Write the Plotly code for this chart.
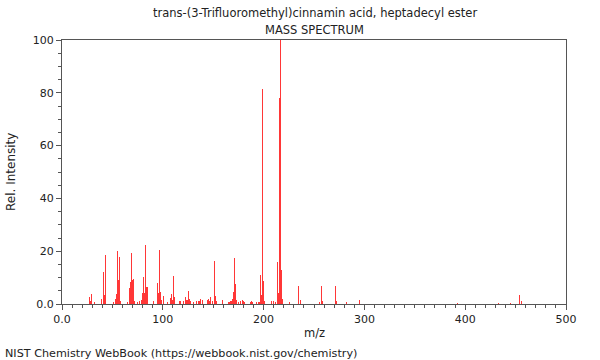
import plotly.graph_objects as go

title_line1 = "trans-(3-Trifluoromethyl)cinnamin acid, heptadecyl ester"
title_line2 = "MASS SPECTRUM"
x_label = "m/z"
y_label = "Rel. Intensity"
footer = "NIST Chemistry WebBook (https://webbook.nist.gov/chemistry)"

mz = [27, 28, 29, 32, 39, 41, 42, 43, 51, 53, 54, 55, 56, 57, 58,
      65, 67, 68, 69, 70, 71, 72, 75, 77, 79, 80, 81, 82, 83, 84, 85,
      91, 95, 96, 97, 98, 99, 101, 105, 108, 109, 110, 111, 112,
      117, 118, 121, 123, 124, 125, 126, 127, 130, 133, 135, 136, 137, 139,
      144, 145, 146, 147, 149, 151, 152, 153, 159, 165, 166, 167, 168, 169,
      170, 171, 172, 173, 175, 177, 179, 180, 181, 187, 188, 189, 193, 195,
      196, 197, 198, 199, 200, 201, 208, 210, 212, 214, 215, 216, 217, 218, 219,
      226, 235, 237, 255, 257, 258, 271, 272, 282, 295, 392, 433, 445, 454, 456]
intensity = [2.5, 1.0, 3.8, 0.6, 2.0, 12.0, 3.4, 18.5, 0.8, 2.0, 3.8, 20.0, 9.0, 17.8, 1.0,
             0.8, 6.0, 8.5, 19.4, 9.0, 9.3, 1.0, 0.8, 1.0, 1.5, 4.0, 10.3, 4.0, 22.3, 6.6, 6.3,
             1.0, 7.8, 4.0, 20.5, 4.7, 1.5, 3.0, 0.8, 2.1, 3.8, 1.5, 10.6, 2.7,
             1.0, 1.0, 1.0, 2.7, 1.5, 5.0, 2.0, 1.0, 0.8, 1.0, 1.2, 1.2, 2.0, 1.5,
             1.6, 1.8, 1.2, 2.7, 1.0, 16.3, 3.2, 1.0, 1.5, 0.8, 0.8, 1.0, 1.2, 2.0,
             4.7, 17.4, 7.5, 1.5, 0.8, 1.0, 1.5, 1.0, 0.8, 0.8, 1.0, 0.6, 0.8, 0.6,
             0.8, 11.0, 3.6, 81.3, 8.8, 1.2, 1.0, 1.2, 0.8, 16.0, 4.0, 78.0, 100.0, 13.0, 2.0,
             0.6, 6.8, 1.5, 0.6, 7.0, 1.2, 6.8, 1.2, 0.8, 1.5, 0.3, 0.3, 0.3, 3.3, 1.0]

x_tickvals = [0, 100, 200, 300, 400, 500]
x_ticktext = ["0.0", "100", "200", "300", "400", "500"]
y_tickvals = [0, 20, 40, 60, 80, 100]
y_ticktext = ["0.0", "20", "40", "60", "80", "100"]

font_family = "DejaVu Sans"
W, H = 600, 360
L, R, T, B = 62, 34, 40, 56
plot_w = W - L - R
plot_h = H - T - B


def px_x(px):
    return (px - L) / plot_w


def px_y(py):
    return (H - B - py) / plot_h


fig = go.Figure()
fig.add_trace(go.Bar(
    x=mz, y=intensity, width=1.0,
    marker=dict(color="rgba(255,20,20,0.85)", line=dict(width=0)),
    hoverinfo="x+y",
))

axis_common = dict(
    showline=True, linecolor="#555", linewidth=1, mirror=True,
    ticks="outside", ticklen=5, tickcolor="#555", tickwidth=1,
    showgrid=False, zeroline=False,
    tickfont=dict(family=font_family, size=11, color="#222"),
)

fig.update_layout(
    width=W, height=H,
    margin=dict(l=L, r=R, t=T, b=B),
    paper_bgcolor="white", plot_bgcolor="white",
    showlegend=False, bargap=0,
    font=dict(family=font_family, size=11.5, color="#222"),
    xaxis=dict(range=[0, 500], tickvals=x_tickvals, ticktext=x_ticktext,
               minor=dict(dtick=10, tick0=0, ticks="outside", ticklen=3, tickcolor="#555", showgrid=False),
               **axis_common),
    yaxis=dict(range=[0, 100], tickvals=y_tickvals, ticktext=y_ticktext,
               minor=dict(dtick=5, tick0=0, ticks="outside", ticklen=3, tickcolor="#555", showgrid=False),
               **axis_common),
    annotations=[
        dict(text=title_line1, xref="paper", yref="paper", x=px_x(315), y=px_y(13),
             xanchor="center", yanchor="middle", showarrow=False),
        dict(text=title_line2, xref="paper", yref="paper", x=px_x(314), y=px_y(30),
             xanchor="center", yanchor="middle", showarrow=False),
        dict(text=x_label, xref="paper", yref="paper", x=px_x(314), y=px_y(333),
             xanchor="center", yanchor="middle", showarrow=False),
        dict(text=y_label, xref="paper", yref="paper", x=px_x(11), y=px_y(172),
             xanchor="center", yanchor="middle", showarrow=False, textangle=-90,
             font=dict(size=12)),
        dict(text=footer, xref="paper", yref="paper", x=px_x(3), y=px_y(353),
             xanchor="left", yanchor="middle", showarrow=False, font=dict(size=11.2)),
    ],
)

fig.write_html("out.html", config={"displayModeBar": False},
               post_script="document.body.style.margin='0';document.body.style.overflow='hidden';")
